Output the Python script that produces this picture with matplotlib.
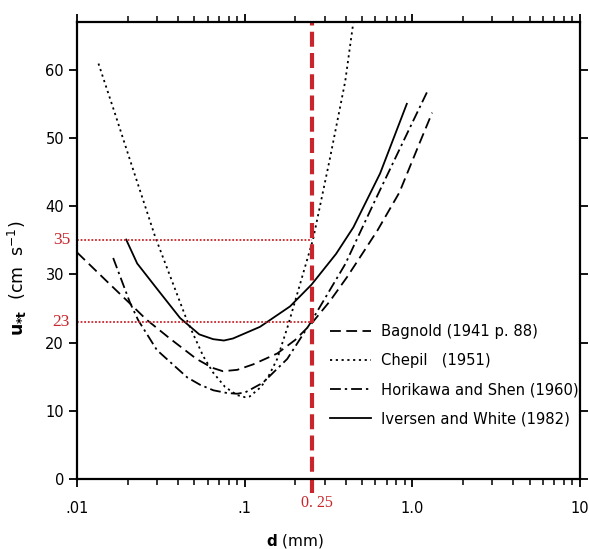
"""Threshold friction velocity u*t vs grain diameter d (Bagnold, Chepil, Horikawa & Shen, Iversen & White)."""
import matplotlib
matplotlib.use("Agg")
import matplotlib.pyplot as plt
import matplotlib.transforms as mtransforms

# --- data ---
bagnold_d = [0.01, 0.015, 0.0205, 0.0258, 0.0357, 0.0515, 0.064, 0.074, 0.09, 0.112, 0.156, 0.2, 0.25,
             0.32, 0.407, 0.52, 0.62, 0.835, 1.1, 1.31]
bagnold_u = [33.2, 29.0, 25.8, 23.4, 20.6, 17.6, 16.3, 15.8, 16.0, 16.8, 18.4, 20.4, 22.8,
             26.0, 29.6, 33.6, 36.5, 42.0, 49.2, 53.7]

chepil_d = [0.0134, 0.0169, 0.0207, 0.0292, 0.0451, 0.0565, 0.0647, 0.0762, 0.0898, 0.1, 0.107,
            0.125, 0.14, 0.156, 0.181, 0.235, 0.255, 0.32, 0.397, 0.444]
chepil_u = [60.9, 53.4, 46.7, 35.5, 23.3, 18.0, 15.6, 13.5, 12.3, 12.0, 12.1,
            13.5, 15.3, 17.6, 22.5, 32.1, 35.1, 46.7, 58.3, 67.0]

horikawa_d = [0.0164, 0.0207, 0.0231, 0.0299, 0.0453, 0.0542, 0.065, 0.0785, 0.09, 0.1006, 0.128,
              0.179, 0.245, 0.397, 0.597, 0.965, 1.22]
horikawa_u = [32.4, 25.8, 23.3, 18.9, 14.9, 13.8, 13.0, 12.6, 12.5, 12.7, 14.1,
              17.6, 22.8, 31.5, 40.8, 51.5, 56.7]

iversen_d = [0.0196, 0.0228, 0.0299, 0.0411, 0.0535, 0.0647, 0.075, 0.085, 0.123, 0.186, 0.25,
             0.35, 0.444, 0.641, 0.925]
iversen_u = [35.1, 31.6, 27.9, 23.6, 21.2, 20.5, 20.3, 20.6, 22.3, 25.3, 28.5,
             33.0, 36.9, 44.8, 55.0]

d_ref = 0.25
u_refs = [35, 23]

x_ticks = [0.01, 0.1, 1.0, 10]
x_ticklabels = [".01", ".1", "1.0", "10"]
y_ticks = [0, 10, 20, 30, 40, 50, 60]

RED = "#c8262c"

fig = plt.figure(figsize=(5.89, 5.49), dpi=100)
ax = fig.add_axes([0.131, 0.1275, 0.854, 0.8325])

ax.plot(bagnold_d, bagnold_u, color="black", lw=1.3, dashes=(6, 3), label="Bagnold (1941 p. 88)")
ax.plot(chepil_d, chepil_u, color="black", lw=1.3, dashes=(1.2, 2), label="Chepil   (1951)")
ax.plot(horikawa_d, horikawa_u, color="black", lw=1.3, dashes=(6, 2.2, 1.3, 2.2),
        label="Horikawa and Shen (1960)")
ax.plot(iversen_d, iversen_u, color="black", lw=1.3, label="Iversen and White (1982)")

# reference lines (red); the vertical one runs a little past the bottom spine
ax.plot([d_ref, d_ref], [-2.0, 67], color=RED, lw=3, dashes=(3.6, 1.5), clip_on=False)
for u in u_refs:
    ax.plot([0.01, d_ref], [u, u], color=RED, lw=1.3, dashes=(1, 1))

ax.set_xscale("log")
ax.set_xlim(0.01, 10)
ax.set_ylim(0, 67)
ax.set_xticks(x_ticks)
ax.set_xticklabels(x_ticklabels)
ax.set_yticks(y_ticks)

ax.tick_params(which="both", direction="out", top=True, right=True, labelsize=10.5)
ax.tick_params(which="major", length=6, width=1.3)
ax.tick_params(which="minor", length=4, width=1.1)
ax.tick_params(axis="x", which="major", pad=10)
ax.tick_params(axis="y", which="minor", left=False, right=False)
for s in ax.spines.values():
    s.set_linewidth(1.6)

# red labels on the axes
blend_x = mtransforms.blended_transform_factory(ax.transData, ax.transAxes)
ax.text(d_ref, -0.035, "0. 25", ha="center", va="top", color=RED, family="Liberation Serif",
        fontsize=11.5, transform=mtransforms.offset_copy(blend_x, fig=fig, x=4, y=0, units="points"))
blend_y = mtransforms.blended_transform_factory(ax.transAxes, ax.transData)
for u in u_refs:
    ax.text(-0.014, u, str(u), transform=blend_y, ha="right", va="center",
            color=RED, family="Liberation Serif", fontsize=12.5)

ax.set_xlabel(r"$\mathbf{d}$ (mm)", fontsize=11)
ax.xaxis.set_label_coords(0.433, -0.115)
ax.set_ylabel(r"$\mathbf{u_{*t}}$  (cm  s$^{-1}$)", fontsize=12.5)
ax.yaxis.set_label_coords(-0.095, 0.44)

ax.legend(loc="upper left", bbox_to_anchor=(0.49, 0.351), frameon=False, fontsize=10.6,
          handlelength=2.8, handletextpad=0.7, labelspacing=0.95, borderaxespad=0)

fig.savefig("out.png", dpi=100)
